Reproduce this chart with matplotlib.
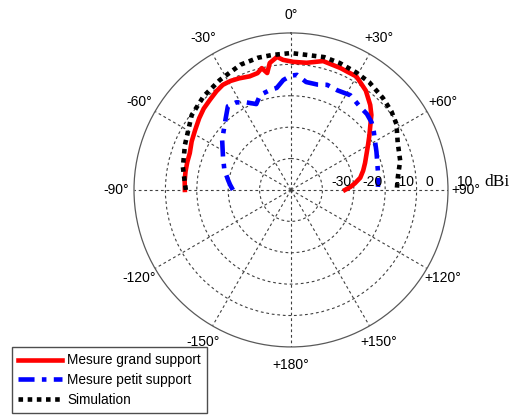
import numpy as np
import matplotlib
matplotlib.use('Agg')
import matplotlib.pyplot as plt
from matplotlib.transforms import offset_copy

plt.rcParams['font.family'] = ['Liberation Sans', 'DejaVu Sans']

# measured patterns (angle in degrees, 0 = top, clockwise positive; gain in dBi)
grand_angles = [-90, -85, -80, -75, -70, -64, -58, -52, -47, -42, -37, -33, -29, -25, -20, -16,
                -13.5, -11.5, -9.5, -6, -3.5, 1, 7, 14, 22, 30, 37, 43, 47, 51, 55, 59, 65,
                70, 75, 80, 84, 87, 90]
grand_dbi = [-6.2, -6.0, -5.9, -5.8, -5.7, -4.8, -4.0, -2.9, -2.0, -1.4, -0.6, -0.1, -0.3, -0.8, -1.5, -1.3,
             -0.1, -2.0, 1.0, 2.6, 1.5, 0.8, 0.8, 2.3, 1.9, 1.7, -0.4, -3.0, -5.0, -7.5, -9.5, -11.3, -13.5,
             -14.9, -16.2, -17.6, -19.5, -21.0, -22.8]

petit_angles = [-90, -85, -81, -73, -64, -54, -43, -37, -32, -27, -22, -18, -12, -8, -4, 0, 3, 8,
                14, 19, 25, 32, 40, 45, 50, 55, 61, 66, 71, 78, 84, 88]
petit_dbi = [-21.5, -20.5, -19.7, -17.8, -15.9, -12.9, -9.4, -6.6, -7.1, -8.7, -10.5, -8.2, -7.5, -7.2, -4.9, -3.6, -3.3, -5.3,
             -5.4, -4.6, -5.0, -4.4, -5.6, -5.8, -6.5, -7.8, -9.3, -10.2, -11.0, -11.7, -12.0, -12.3]

sim_angles = [-90, -86, -78, -67, -53, -43, -33, -22, -14, -8, 0, 7, 14, 21, 29, 36, 45, 52, 58,
              66, 75, 83, 88, 90]
sim_dbi = [-6.5, -6.1, -4.8, -3.3, -0.4, 0.8, 1.7, 3.0, 3.4, 3.4, 3.6, 3.3, 3.6, 3.3, 2.8, 2.4, 1.4, 0.6, -0.4,
           -2.8, -4.0, -5.7, -6.2, -6.3]

angle_ticks = [0, 30, 60, 90, 120, 150, 180, 210, 240, 270, 300, 330]
angle_labels = ['0°', '+30°', '+60°', '+90°', '+120°', '+150°', '+180°',
                '-150°', '-120°', '-90°', '-60°', '-30°']
r_ticks = [-30, -20, -10, 0, 10]
r_min, r_max = -40, 10

fig = plt.figure(figsize=(5.16, 4.16), dpi=100)
ax = fig.add_axes([0.2597, 0.1659, 0.6085, 0.755], projection='polar')
ax.set_theta_zero_location('N')
ax.set_theta_direction(-1)
ax.set_ylim(r_min, r_max)

grid_kw = dict(color='0.25', linestyle=(0, (2.5, 2.5)), linewidth=0.8)
ax.set_thetagrids(angle_ticks, [''] * len(angle_ticks))
ax.set_rgrids(r_ticks[:-1], [''] * (len(r_ticks) - 1))
ax.grid(True, **grid_kw)
ax.spines['polar'].set_color('0.35')
ax.spines['polar'].set_linewidth(0.9)

# angle labels outside the circle
for a, lab in zip(angle_ticks, angle_labels):
    ax.text(np.deg2rad(a), 15.8, lab, ha='center', va='center', fontsize=10, clip_on=False)

# radial labels along +90
rtrans = offset_copy(ax.transData, fig=fig, x=9, y=4, units='dots')
for r in r_ticks:
    ax.text(np.pi / 2, r, str(r), transform=rtrans, ha='left', va='baseline', fontsize=10, clip_on=False)
fig.text(484 / 516, (416 - 186) / 416, 'dBi', family='Liberation Serif', fontsize=12.5,
         ha='left', va='baseline')

l1, = ax.plot(np.deg2rad(grand_angles), grand_dbi, color='#ff0000', lw=3.3, solid_joinstyle='round',
              label='Mesure grand support')
l2, = ax.plot(np.deg2rad(petit_angles), petit_dbi, color='#0000ff', lw=3.3,
              dashes=(3.5, 1.6, 1.0, 1.6), dash_capstyle='butt', label='Mesure petit support')
l3, = ax.plot(np.deg2rad(sim_angles), sim_dbi, color='black', lw=3.3,
              dashes=(1, 1), dash_capstyle='butt', label='Simulation')

leg = fig.legend(handles=[l1, l2, l3], loc='lower left', bbox_to_anchor=(12 / 516, 3 / 416),
                 borderaxespad=0, fancybox=False, framealpha=1, edgecolor='0.3', fontsize=9.8,
                 handlelength=3.2, handletextpad=0.4, labelspacing=0.42, borderpad=0.45)
leg.get_frame().set_linewidth(1.0)

fig.savefig('out.png', dpi=100)
